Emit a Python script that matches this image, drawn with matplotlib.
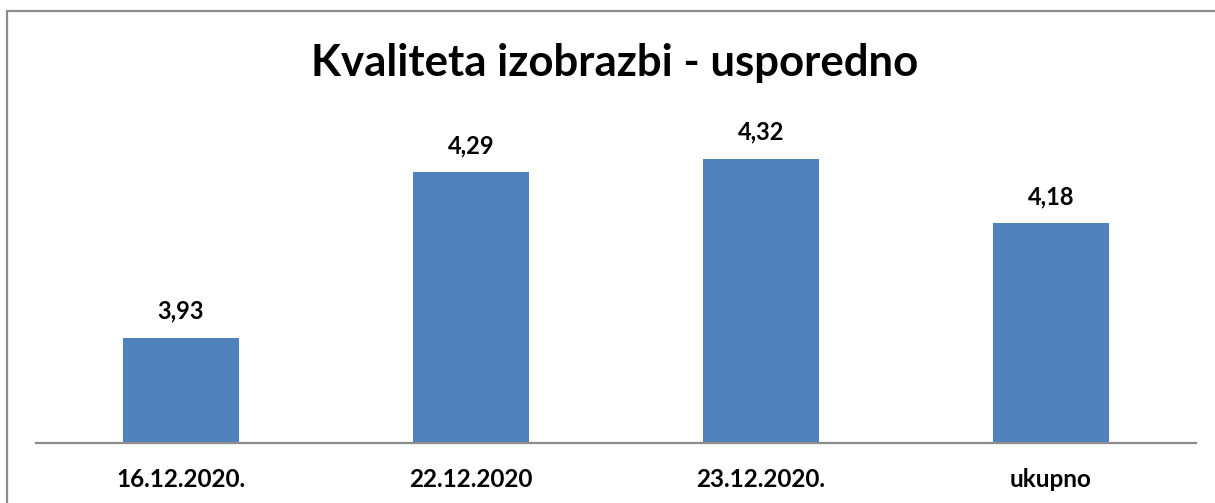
import matplotlib
matplotlib.use("Agg")
import matplotlib.pyplot as plt
from matplotlib.patches import Rectangle

categories = ["16.12.2020.", "22.12.2020", "23.12.2020.", "ukupno"]
values = [3.93, 4.29, 4.32, 4.18]
value_labels = ["3,93", "4,29", "4,32", "4,18"]
title = "Kvaliteta izobrazbi - usporedno"

W, H = 1215, 503
fig = plt.figure(figsize=(W / 100, H / 100), dpi=100)
fig.patch.set_facecolor("white")

# outer chart border (extends past right/bottom edge)
fig.patches.append(Rectangle((7 / W, -0.1), 1.2, 1 - 11 / H + 0.1,
                             transform=fig.transFigure, fill=False,
                             edgecolor="#8c8c8c", linewidth=1.6))

ax = fig.add_axes([36 / W, (H - 443) / H, 1160 / W, (443 - 122) / H])
x = range(len(categories))
ax.bar(x, values, width=0.4, color="#4F81BD", zorder=2)
ax.set_xlim(-0.5, 3.5)
ax.set_ylim(3.7, 4.4)

for s in ["top", "right", "left"]:
    ax.spines[s].set_visible(False)
ax.spines["bottom"].set_color("#8c8c8c")
ax.spines["bottom"].set_linewidth(1.6)
ax.set_yticks([])
ax.set_xticks(list(x))
ax.set_xticklabels(categories, fontfamily="Lato", fontweight="bold", fontsize=17.5)
ax.tick_params(axis="x", length=0, pad=18)

for xi, v, lab in zip(x, values, value_labels):
    ax.annotate(lab, (xi, v), xytext=(0, 19), textcoords="offset points",
                ha="center", va="center", fontfamily="Lato",
                fontweight="bold", fontsize=17)

fig.text(615 / W, 1 - 63 / H, title, ha="center", va="center",
         fontfamily="Lato", fontweight="bold", fontsize=31.5)

fig.savefig("out.png", dpi=100)
